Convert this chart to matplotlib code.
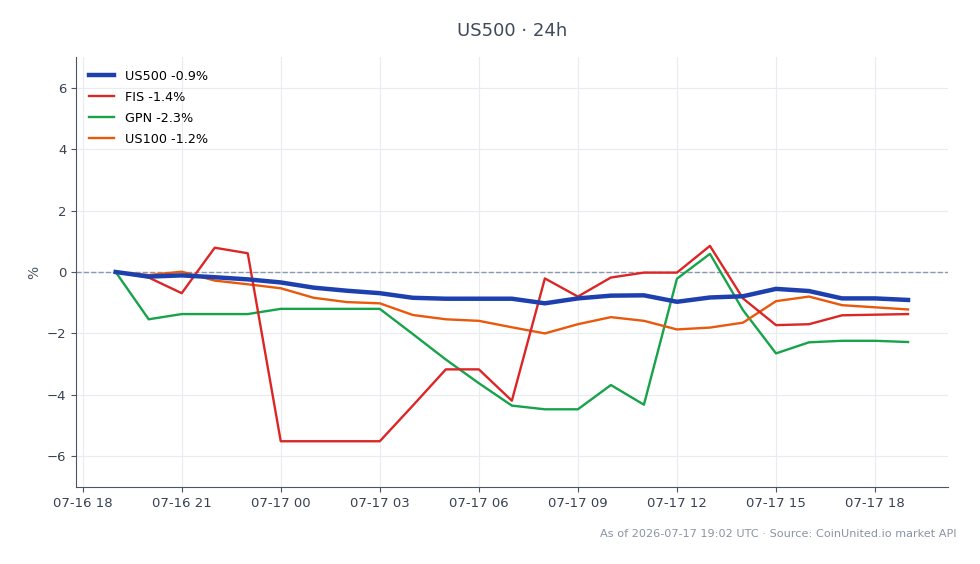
import pandas as pd
import matplotlib
matplotlib.use("Agg")
from matplotlib import pyplot as plt
import matplotlib.dates as mdates

# hourly points, 07-16 19:00 -> 07-17 19:00 UTC
times = pd.date_range("2026-07-16 19:00", "2026-07-17 19:00", freq="h")

us500 = [0.0, -0.15, -0.11, -0.17, -0.24, -0.34, -0.51, -0.61, -0.69, -0.84, -0.87, -0.87, -0.87,
         -1.02, -0.86, -0.77, -0.76, -0.97, -0.83, -0.79, -0.55, -0.62, -0.86, -0.86, -0.91]
fis = [0.0, -0.18, -0.69, 0.79, 0.61, -5.51, -5.51, -5.51, -5.51, -4.35, -3.17, -3.17, -4.19,
       -0.21, -0.8, -0.18, -0.02, -0.02, 0.85, -0.86, -1.73, -1.7, -1.41, -1.39, -1.37]
gpn = [0.0, -1.54, -1.37, -1.37, -1.37, -1.2, -1.2, -1.2, -1.2, -2.02, -2.85, -3.62, -4.35,
       -4.47, -4.47, -3.68, -4.32, -0.22, 0.59, -1.24, -2.65, -2.29, -2.24, -2.24, -2.28]
us100 = [0.0, -0.1, 0.01, -0.28, -0.4, -0.53, -0.84, -0.98, -1.02, -1.4, -1.54, -1.59, -1.8,
         -2.0, -1.7, -1.47, -1.59, -1.87, -1.81, -1.65, -0.95, -0.8, -1.08, -1.15, -1.22]

labels = ["US500 -0.9%", "FIS -1.4%", "GPN -2.3%", "US100 -1.2%"]
colors = ["#1e40af", "#dc2626", "#16a34a", "#ea580c"]

fig = plt.figure(figsize=(9.8, 5.64), dpi=100)
ax = fig.add_axes([0.0776, 0.1365, 0.8894, 0.7625])

ax.plot(times, us500, color=colors[0], linewidth=3.2, label=labels[0], zorder=5)
ax.plot(times, fis, color=colors[1], linewidth=1.7, label=labels[1], zorder=4)
ax.plot(times, gpn, color=colors[2], linewidth=1.7, label=labels[2], zorder=3)
ax.plot(times, us100, color=colors[3], linewidth=1.7, label=labels[3], zorder=3)

ax.axhline(0, color="#8a97b0", linestyle="--", linewidth=1, zorder=1)

ax.set_ylim(-7, 7)
ax.set_yticks([-6, -4, -2, 0, 2, 4, 6])
ax.set_yticklabels(["\u22126", "\u22124", "\u22122", "0", "2", "4", "6"])
ax.xaxis.set_major_locator(mdates.HourLocator(byhour=[0, 3, 6, 9, 12, 15, 18, 21]))
ax.xaxis.set_major_formatter(mdates.DateFormatter("%m-%d %H"))

ax.grid(True, color="#e8ebf0", linewidth=0.8)
ax.set_axisbelow(True)
for s in ["top", "right"]:
    ax.spines[s].set_visible(False)
for s in ["left", "bottom"]:
    ax.spines[s].set_color("#4b5563")
ax.tick_params(colors="#4b5563", labelsize=9.5, labelcolor="#374151")
ax.set_ylabel("%", color="#4b5563", fontsize=10)

ax.set_title("US500 \u00b7 24h", color="#3f4a5a", fontsize=13, pad=15)
ax.legend(loc="upper left", frameon=False, fontsize=9.2, handlelength=2.0,
          labelspacing=0.62, borderaxespad=0.6)

fig.text(0.976, 0.053, "As of 2026-07-17 19:02 UTC \u00b7 Source: CoinUnited.io market API",
         ha="right", va="center", fontsize=8.1, color="#8a94a6")

fig.savefig("out.png", dpi=100)
